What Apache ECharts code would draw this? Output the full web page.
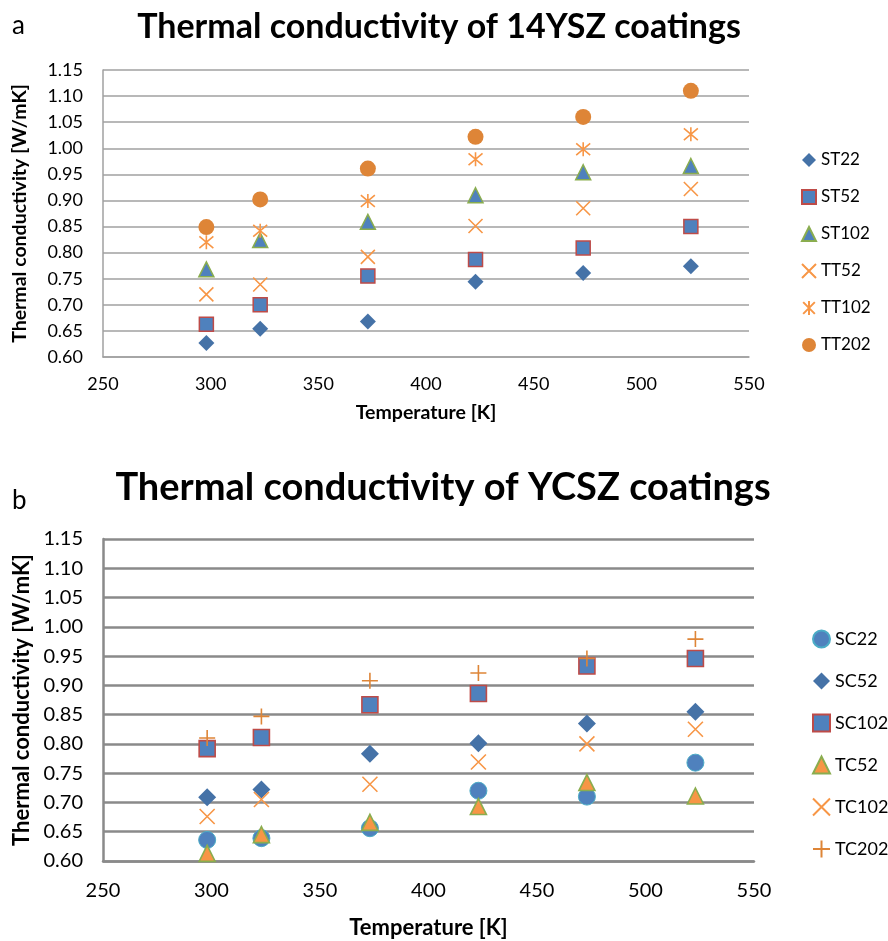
<!DOCTYPE html>
<html><head><meta charset="utf-8">
<script src="https://cdn.jsdelivr.net/npm/echarts@6/dist/echarts.min.js"></script>
<style>html,body{margin:0;padding:0;background:#fff}#c{width:888px;height:941px}</style>
</head><body><div id="c"></div>
<script>
// ---- data ----
const temps = [298, 323, 373, 423, 473, 523];
const xTicks = [250, 300, 350, 400, 450, 500, 550];
const yTicks = [0.60, 0.65, 0.70, 0.75, 0.80, 0.85, 0.90, 0.95, 1.00, 1.05, 1.10, 1.15];

const ST22  = [0.627, 0.654, 0.668, 0.744, 0.761, 0.774];
const ST52  = [0.663, 0.700, 0.755, 0.787, 0.809, 0.850];
const ST102 = [0.768, 0.824, 0.859, 0.910, 0.954, 0.966];
const TT52  = [0.720, 0.739, 0.792, 0.851, 0.885, 0.922];
const TT102 = [0.820, 0.842, 0.899, 0.979, 0.998, 1.027];
const TT202 = [0.849, 0.902, 0.961, 1.022, 1.060, 1.110];

const SC22  = [0.636, 0.639, 0.656, 0.720, 0.710, 0.768];
const SC52  = [0.709, 0.722, 0.783, 0.801, 0.835, 0.855];
const SC102 = [0.792, 0.811, 0.867, 0.886, 0.933, 0.946];
const TC52  = [0.613, 0.645, 0.666, 0.693, 0.734, 0.711];
const TC102 = [0.676, 0.705, 0.731, 0.769, 0.800, 0.825];
const TC202 = [0.810, 0.847, 0.908, 0.921, 0.946, 0.979];

const titleA = 'Thermal conductivity of 14YSZ coatings';
const titleB = 'Thermal conductivity of YCSZ coatings';
const yName = 'Thermal conductivity [W/mK]';
const xName = 'Temperature [K]';

// ---- styles ----
const FONT = 'Lato';
const BLUE = '#4F81BD', DBLUE = '#4572A7', RED = '#BE4B48', GREEN = '#8AAD4F',
      ORANGE = '#F79646', DORANGE = '#DE8537', TEAL = '#4BACC6';
const X_PATH = 'path://M0,0L10,10M10,0L0,10';
const STAR_PATH = 'path://M0,0L10,10M10,0L0,10M5,-1L5,11';
const PLUS_PATH = 'path://M5,0L5,10M0,5L10,5';

function pts(vals) { return temps.map((t, i) => [t, vals[i]]); }

function ser(name, vals, idx, symbol, size, fill, border, bw) {
  return {
    name, type: 'scatter', xAxisIndex: idx, yAxisIndex: idx,
    data: pts(vals), symbol, symbolSize: size,
    itemStyle: { color: fill, borderColor: border, borderWidth: bw, opacity: 1 },
    emphasis: { disabled: true }
  };
}

const grids = [
  { left: 103, top: 70, width: 646, height: 287 },
  { left: 103, top: 539, width: 651, height: 322 }
];

// per-chart font sizes
const S = [
  { tick: 18, name: 19.5, xGap: 46, yGap: 73, xMargin: 18, yMargin: 20 },
  { tick: 20, name: 22, xGap: 56, yGap: 70, xMargin: 20, yMargin: 20 }
];

function xAxis(idx, lw, lc) {
  const s = S[idx];
  return {
    type: 'value', gridIndex: idx, min: 250, max: 550, interval: 50,
    axisLine: { show: true, lineStyle: { color: lc, width: lw } },
    axisTick: { show: false }, splitLine: { show: false },
    axisLabel: { color: '#000', fontFamily: FONT, fontSize: s.tick, margin: s.xMargin },
    name: xName, nameLocation: 'middle', nameGap: s.xGap,
    nameTextStyle: { color: '#000', fontFamily: FONT, fontWeight: 'bold', fontSize: s.name }
  };
}
function yAxis(idx, lw, lc) {
  const s = S[idx];
  return {
    type: 'value', gridIndex: idx, min: 0.60, max: 1.15, interval: 0.05,
    axisLine: { show: true, lineStyle: { color: lc, width: lw } },
    axisTick: { show: false },
    splitLine: { show: true, lineStyle: { color: lc, width: lw } },
    axisLabel: { color: '#000', fontFamily: FONT, fontSize: s.tick, margin: s.yMargin,
                 formatter: v => v.toFixed(2) },
    name: yName, nameLocation: 'middle', nameGap: s.yGap,
    nameTextStyle: { color: '#000', fontFamily: FONT, fontWeight: 'bold', fontSize: s.name }
  };
}

const option = {
  animation: false,
  backgroundColor: '#fff',
  title: [
    { text: titleA, left: 434, top: 5, textAlign: 'center',
      textStyle: { fontFamily: FONT, fontWeight: 'bold', fontSize: 34, color: '#000' } },
    { text: titleB, left: 438, top: 464, textAlign: 'center',
      textStyle: { fontFamily: FONT, fontWeight: 'bold', fontSize: 38, color: '#000' } },
    { text: 'a', left: 7, top: 8, textStyle: { fontFamily: FONT, fontWeight: 'normal', fontSize: 26, color: '#000' } },
    { text: 'b', left: 7, top: 483, textStyle: { fontFamily: FONT, fontWeight: 'normal', fontSize: 26, color: '#000' } }
  ],
  legend: [
    { data: ['ST22','ST52','ST102','TT52','TT102','TT202'], orient: 'vertical',
      left: 796, top: 145, itemGap: 17, itemWidth: 14, itemHeight: 14, itemTextGap: 4,
      textStyle: { color: '#000', fontFamily: FONT, fontSize: 17, lineHeight: 20 }, selectedMode: false },
    { data: ['SC22','SC52','SC102','TC52','TC102','TC202'], orient: 'vertical',
      left: 807, top: 624, itemGap: 22, itemWidth: 17, itemHeight: 17, itemTextGap: 4,
      textStyle: { color: '#000', fontFamily: FONT, fontSize: 18, lineHeight: 20 }, selectedMode: false }
  ],
  grid: grids,
  xAxis: [xAxis(0, 1.5, '#A0A0A0'), xAxis(1, 2.5, '#8A8A8A')],
  yAxis: [yAxis(0, 1.5, '#A0A0A0'), yAxis(1, 2.5, '#8A8A8A')],
  series: [
    ser('ST22', ST22, 0, 'diamond', 16, DBLUE, DBLUE, 0),
    ser('ST52', ST52, 0, 'rect', 14, BLUE, RED, 1.5),
    ser('ST102', ST102, 0, 'triangle', 15, BLUE, GREEN, 1.5),
    ser('TT52', TT52, 0, X_PATH, 14, 'rgba(0,0,0,0)', ORANGE, 1.6),
    ser('TT102', TT102, 0, STAR_PATH, 14, 'rgba(0,0,0,0)', ORANGE, 1.6),
    ser('TT202', TT202, 0, 'circle', 16, DORANGE, DORANGE, 0),

    ser('SC22', SC22, 1, 'circle', 17, BLUE, TEAL, 1),
    ser('SC52', SC52, 1, 'diamond', 18, DBLUE, DBLUE, 0),
    ser('SC102', SC102, 1, 'rect', 16, BLUE, RED, 1.6),
    ser('TC52', TC52, 1, 'triangle', 16, ORANGE, GREEN, 1.6),
    ser('TC102', TC102, 1, X_PATH, 15, 'rgba(0,0,0,0)', ORANGE, 1.6),
    ser('TC202', TC202, 1, PLUS_PATH, 16, 'rgba(0,0,0,0)', DORANGE, 1.6)
  ]
};

const chart = echarts.init(document.getElementById('c'), null, { renderer: 'canvas' });
chart.setOption(option);
</script>
</body></html>
